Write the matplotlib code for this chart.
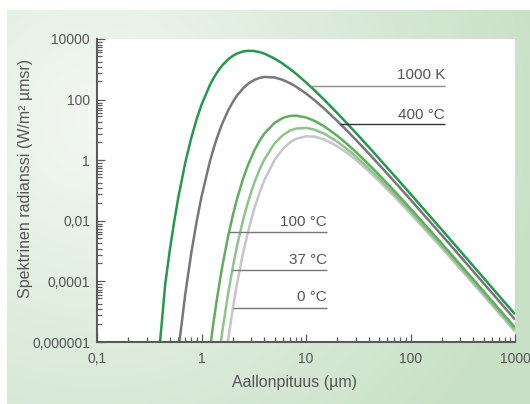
import numpy as np
import matplotlib
matplotlib.use('Agg')
import matplotlib.pyplot as plt
from matplotlib.ticker import FixedLocator, FixedFormatter, NullFormatter, LogLocator

plt.rcParams['font.family'] = ['Liberation Sans', 'DejaVu Sans']

# wavelength (um) and spectral radiance (W/m2 um sr)
nan = np.nan
wavelength = [0.35, 0.4, 0.45, 0.5, 0.55, 0.6, 0.7, 0.8, 0.9, 1.0,
              1.2, 1.3, 1.4, 1.5, 1.6, 1.8, 2.0, 2.2, 2.5, 2.8,
              3.2, 3.6, 4, 5, 6, 7, 8, 10, 12, 15,
              20, 25, 30, 40, 50, 70, 100, 200, 300, 500, 1000]

rad_1000K = [3.2e-8, 9.1e-7, 8.4e-5, 1.21e-3, 1.03e-2, 5.9e-2, 0.84, 5.62, 23.0, 67.2,
             297, 501, 762, 1071, 1413, 2129, 2798, 3344, 3876, 4082,
             4005, 3687, 3277, 2272, 1530, 1040, 721, 370, 206.5, 97.4,
             35.3, 15.7, 7.96, 2.69, 1.14, 0.310, 0.0770, 4.99e-3, 9.98e-4, 1.305e-4, 8.22e-6]

rad_400C = [nan, nan, nan, nan, 3.1e-8, 5.2e-7, 3.9e-5, 9.07e-4, 9.79e-3, 0.0621,
            0.880, 2.32, 5.19, 10.16, 17.9, 43.9, 85.0, 139.5, 236, 335,
            447, 521, 558, 538, 447, 351, 270, 159.2, 96.9, 49.7,
            19.5, 9.03, 4.72, 1.65, 0.714, 0.198, 0.0500, 3.30e-3, 6.64e-4, 8.72e-5, 5.51e-6]

rad_100C = [nan, nan, nan, nan, nan, nan, nan, nan, nan, nan,
            5.3e-7, 4.22e-6, 2.42e-5, 1.08e-4, 3.89e-4, 3.13e-3, 0.01578, 0.0565, 0.2445, 0.723,
            2.08, 4.39, 7.57, 17.06, 24.8, 28.8, 29.6, 25.7, 20.05, 13.0,
            6.34, 3.32, 1.87, 0.717, 0.328, 0.0965, 0.0253, 1.75e-3, 3.57e-4, 4.75e-5, 3.03e-6]

rad_37C = [nan, nan, nan, nan, nan, nan, nan, nan, nan, nan,
           nan, nan, 9.0e-8, 5.81e-7, 2.91e-6, 4.04e-5, 3.14e-4, 1.61e-3, 0.01066, 0.0441,
           0.1796, 0.499, 1.068, 3.56, 6.72, 9.39, 11.05, 11.63, 10.24, 7.46,
           4.06, 2.26, 1.327, 0.531, 0.249, 0.0754, 0.0202, 1.426e-3, 2.93e-4, 3.92e-5, 2.51e-6]

rad_0C = [nan, nan, nan, nan, nan, nan, nan, nan, nan, nan,
          nan, nan, nan, nan, 5.7e-8, 1.23e-6, 1.36e-5, 9.24e-5, 8.63e-4, 4.68e-3,
          0.0252, 0.0871, 0.222, 1.013, 2.36, 3.82, 5.03, 6.17, 6.01, 4.83,
          2.88, 1.689, 1.024, 0.4256, 0.204, 0.0631, 0.01717, 1.235e-3, 2.555e-4, 3.43e-5, 2.20e-6]

series = [rad_0C, rad_37C, rad_100C, rad_400C, rad_1000K]
colors = ['#c6c6ca', '#8dc58a', '#5fae5f', '#77777b', '#239a4b']

x_ticks = [0.1, 1, 10, 100, 1000]
x_labels = ['0,1', '1', '10', '100', '1000']
y_ticks = [1e-6, 1e-4, 1e-2, 1, 1e2, 1e4]
y_labels = ['0,000001', '0,0001', '0,01', '1', '100', '10000']

# curve labels with leader lines
label_names = ['1000 K', '400 °C', '100 °C', '37 °C', '0 °C']
label_y = [281, 15.7, 4.27e-3, 2.38e-4, 1.36e-5]
label_x0 = [10.9, 21.3, 1.84, 1.97, 2.02]
label_x1 = [214, 214, 15.9, 15.9, 15.9]
label_text_y = [649, 31, 9.1e-3, 5.08e-4, 3.06e-5]
label_line_colors = ['#8c8c8c', '#333333', '#777777', '#777777', '#777777']

fig = plt.figure(figsize=(5.3, 4.04), dpi=100)
fig.patch.set_facecolor('white')

# light green gradient panel behind the chart
bg = fig.add_axes([7/530, 0, 523/530, 394/404])
h, w = 394, 523
yy, xx = np.mgrid[0:h, 0:w]
t = np.clip(np.hypot(xx - 90, yy - 110) / 460.0, 0, 1)
c0 = np.array([0xf3, 0xf8, 0xf2]) / 255
c1 = np.array([0xc8, 0xe0, 0xc6]) / 255
bg.imshow(c0 + (c1 - c0) * t[..., None], aspect='auto', interpolation='bilinear')
bg.axis('off')

ax = fig.add_axes([97/530, 62/404, 418/530, 303/404])
ax.set_facecolor('white')
ax.set_xscale('log')
ax.set_yscale('log')

for vals, col in zip(series, colors):
    ax.plot(wavelength, vals, color=col, lw=1.8, solid_capstyle='butt')

for name, y, x0, x1, ty, lc in zip(label_names, label_y, label_x0, label_x1,
                                   label_text_y, label_line_colors):
    ax.hlines(y, x0, x1, color=lc, lw=1.0)
    ax.text(x1, ty, name, ha='right', va='center', fontsize=11, color='#555555')

ax.set_xlim(0.1, 1000)
ax.set_ylim(1e-6, 1e4)

for s in ['top', 'right']:
    ax.spines[s].set_visible(False)
for s in ['left', 'bottom']:
    ax.spines[s].set_color('#5a5a5a')
    ax.spines[s].set_linewidth(1.5)

ax.xaxis.set_major_locator(FixedLocator(x_ticks))
ax.xaxis.set_major_formatter(FixedFormatter(x_labels))
ax.xaxis.set_minor_locator(LogLocator(base=10, subs=np.arange(2, 10)))
ax.xaxis.set_minor_formatter(NullFormatter())

ax.yaxis.set_major_locator(FixedLocator(y_ticks))
ax.yaxis.set_major_formatter(FixedFormatter(y_labels))
fac = [0.8, 0.65, 0.54, 0.44, 0.36, 0.28, 0.18, 0.12, 0.075, 0.04]
ax.yaxis.set_minor_locator(FixedLocator([m * f for m in y_ticks[1:] for f in fac]))
ax.yaxis.set_minor_formatter(NullFormatter())

ax.tick_params(which='both', direction='in', color='#5a5a5a', width=0.9)
ax.tick_params(which='major', length=6, labelsize=10, labelcolor='#555555')
ax.tick_params(which='minor', length=3.5)
ax.tick_params(axis='x', which='major', pad=7)
ax.tick_params(axis='y', which='major', pad=5)

fig.text(26/530, 1 - 178/404, 'Spektrinen radianssi (W/m² µmsr)', rotation=90,
         ha='center', va='center', fontsize=11.5, color='#555555')
fig.text(295/530, 21/404, 'Aallonpituus (µm)', ha='center', va='center',
         fontsize=11.5, color='#555555')

fig.savefig('out.png', dpi=100)
